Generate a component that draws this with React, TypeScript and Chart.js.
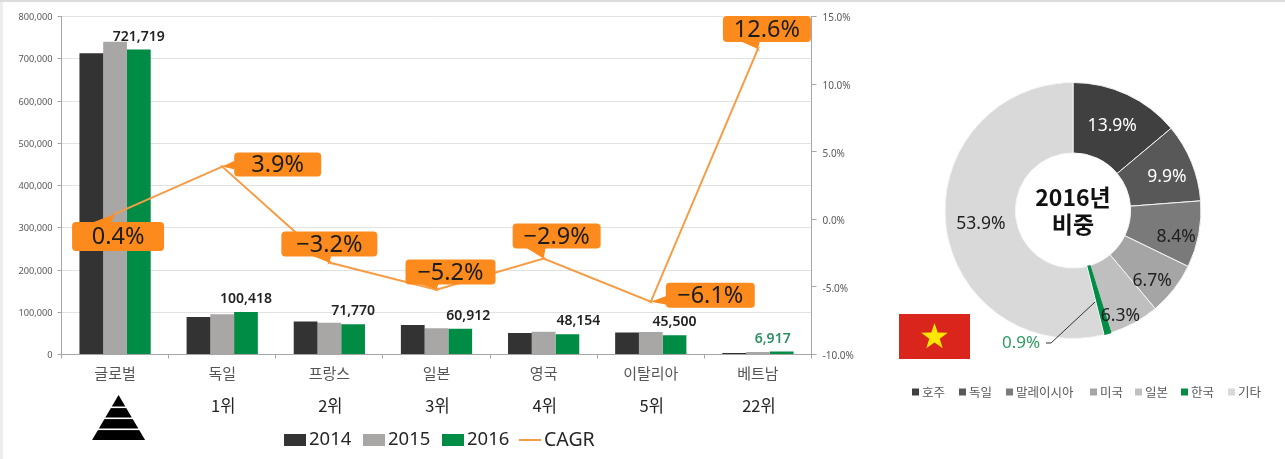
import React, { useEffect, useRef } from "react";
import { Chart, registerables } from "chart.js";

Chart.register(...registerables);

const categories = ["글로벌", "독일", "프랑스", "일본", "영국", "이탈리아", "베트남"];
const ranks = ["", "1위", "2위", "3위", "4위", "5위", "22위"];
const values2014 = [713000, 89000, 78000, 70000, 51000, 52000, 3500];
const values2015 = [740000, 95000, 75000, 62000, 54000, 53000, 6000];
const values2016 = [721719, 100418, 71770, 60912, 48154, 45500, 6917];
const cagr = [0.4, 3.9, -3.2, -5.2, -2.9, -6.1, 12.6];

const shareLabels = ["호주", "독일", "말레이시아", "미국", "일본", "한국", "기타"];
const shareValues = [13.9, 9.9, 8.4, 6.7, 6.3, 0.9, 53.9];
const shareColors = ["#404040", "#585858", "#7a7a7a", "#a5a5a5", "#bfbfbf", "#008c45", "#d9d9d9"];
const shareBorders = ["#f4f4f4", "#f4f4f4", "#f4f4f4", "#f4f4f4", "#f4f4f4", "#008c45", "#f4f4f4"];

const FONT = '"Noto Sans CJK KR", "Noto Sans", sans-serif';
const NUM = '"Noto Sans", sans-serif';
const ORANGE = "#fd8a1c";
const GREEN = "#008c45";
const LEGEND_BOX_WIDTH = 22;

// callout box placement relative to its data point: dx, dy, w, h
const callouts = [
  [-43, 8, 92, 29],
  [12, -14, 87, 24],
  [-48, -31, 96, 25],
  [-31, -30, 90, 25],
  [-31, -35, 88, 25],
  [15, -19, 89, 25],
  [-35, -33, 88, 26],
];
const valueLabelOffsets = [0, 0, 0, 8, 11, 0, -9];
const sliceLabelOffsets = [[0, 0], [8, 1], [12, 9], [6, 13], [3, 24], null, [0, 2]];

function legend(ctx: any, items: any[], y: number, o: any) {
  ctx.save();
  ctx.textBaseline = "middle";
  ctx.textAlign = "left";
  items.forEach((it) => {
    ctx.fillStyle = it.color;
    ctx.strokeStyle = it.color;
    if (it.line) {
      ctx.lineWidth = 2;
      ctx.beginPath();
      ctx.moveTo(it.x, y);
      ctx.lineTo(it.x + o.w, y);
      ctx.stroke();
    } else {
      ctx.fillRect(it.x, y - o.h / 2, o.w, o.h);
    }
    ctx.font = it.font || o.font;
    ctx.fillStyle = o.color;
    ctx.fillText(it.text, it.x + o.w + o.gap, y + (o.dy || 0));
  });
  ctx.restore();
}

const barOverlay = {
  id: "barOverlay",
  afterDatasetsDraw(chart: any) {
    const { ctx, scales } = chart;
    const meta2016 = chart.getDatasetMeta(2);
    ctx.save();
    ctx.textAlign = "center";
    ctx.textBaseline = "middle";

    values2016.forEach((v, i) => {
      const el = meta2016.data[i];
      ctx.font = `600 14px ${NUM}`;
      ctx.fillStyle = i === 6 ? "#2e8f62" : "#222222";
      ctx.fillText(v.toLocaleString("en-US"), el.x + valueLabelOffsets[i], el.y - 13);
    });

    cagr.forEach((v, i) => {
      const px = scales.x.getPixelForValue(i);
      const py = scales.y1.getPixelForValue(v);
      const [dx, dy, w, h] = callouts[i];
      const left = px + dx;
      const top = py + dy;
      ctx.fillStyle = ORANGE;
      ctx.beginPath();
      ctx.roundRect(left, top, w, h, 4);
      ctx.fill();
      ctx.beginPath();
      ctx.moveTo(px, py);
      if (px < left) {
        ctx.lineTo(left + 1, py - 6);
        ctx.lineTo(left + 1, py + 3);
      } else if (py > top + h) {
        ctx.lineTo(px - 18, top + h - 1);
        ctx.lineTo(px + 2, top + h - 1);
      } else {
        ctx.lineTo(px - 24, top + 1);
        ctx.lineTo(px - 4, top + 1);
      }
      ctx.closePath();
      ctx.fill();
      ctx.fillStyle = "#1c1c1c";
      ctx.font = `23.5px ${NUM}`;
      const text = (v < 0 ? "−" : "") + Math.abs(v).toFixed(1) + "%";
      ctx.fillText(text, left + w / 2, top + h / 2 + 1);
    });

    ctx.fillStyle = "#222222";
    ctx.font = `16.5px ${FONT}`;
    ranks.forEach((r, i) => {
      if (r) ctx.fillText(r, scales.x.getPixelForValue(i) + 1, 406);
    });

    // pyramid marker under the global column
    const cx = scales.x.getPixelForValue(0) + 3.5;
    ctx.fillStyle = "#000000";
    ctx.beginPath();
    ctx.moveTo(cx, 395);
    ctx.lineTo(cx + 26.5, 440);
    ctx.lineTo(cx - 26.5, 440);
    ctx.closePath();
    ctx.fill();
    ctx.fillStyle = "#ffffff";
    [406.5, 417.5, 428.5].forEach((y) => ctx.fillRect(cx - 30, y, 60, 1.6));
    ctx.restore();

    const xs = [284, 363, 442, 519];
    const items = chart.data.datasets.map((d: any, i: number) => ({
      x: xs[i],
      text: d.label,
      color: d.type === "line" ? d.borderColor : d.backgroundColor,
      line: d.type === "line",
      font: d.type === "line" ? `19.5px ${NUM}` : undefined,
    }));
    legend(ctx, items, 440, { font: `18.5px ${NUM}`, w: LEGEND_BOX_WIDTH, h: 12, gap: 3, color: "#262626" });
  },
};

const pieOverlay = {
  id: "pieOverlay",
  afterDatasetsDraw(chart: any) {
    const { ctx } = chart;
    const arcs = chart.getDatasetMeta(0).data;
    const ox = -860;
    const cx = arcs[0].x;
    const cy = arcs[0].y;
    ctx.save();
    ctx.textAlign = "center";
    ctx.textBaseline = "middle";

    shareValues.forEach((v, i) => {
      const off = sliceLabelOffsets[i];
      if (!off) return;
      const c = arcs[i].getCenterPoint();
      ctx.fillStyle = i < 2 ? "#ffffff" : "#1f1f1f";
      ctx.font = `17.5px ${NUM}`;
      ctx.fillText(v.toFixed(1) + "%", c.x + off[0], c.y + off[1]);
    });

    ctx.fillStyle = "#2e9c63";
    ctx.font = `17px ${NUM}`;
    ctx.fillText(shareValues[5].toFixed(1) + "%", 1021 + ox, 343);
    ctx.strokeStyle = "#333333";
    ctx.lineWidth = 1;
    ctx.beginPath();
    ctx.moveTo(1046 + ox, 343);
    ctx.lineTo(1051 + ox, 343);
    ctx.lineTo(1095 + ox, 302);
    ctx.stroke();

    ctx.fillStyle = "#111111";
    ctx.font = `bold 23px ${FONT}`;
    ctx.fillText("2016년", cx, cy - 13);
    ctx.fillText("비중", cx, cy + 14);

    // flag
    ctx.fillStyle = "#da251d";
    ctx.fillRect(899 + ox, 314, 71, 45);
    const sx = 934.5 + ox;
    const sy = 337;
    ctx.fillStyle = "#ffe600";
    ctx.beginPath();
    for (let k = 0; k < 10; k++) {
      const r = k % 2 === 0 ? 14 : 5.5;
      const a = -Math.PI / 2 + (k * Math.PI) / 5;
      const X = sx + r * Math.cos(a);
      const Y = sy + r * Math.sin(a);
      if (k === 0) ctx.moveTo(X, Y);
      else ctx.lineTo(X, Y);
    }
    ctx.closePath();
    ctx.fill();
    ctx.restore();

    const xs = [912, 959, 1006, 1090, 1135, 1181, 1228];
    const items = shareLabels.map((t, i) => ({ x: xs[i] + ox, text: t, color: shareColors[i] }));
    legend(ctx, items, 392, { font: `12.5px ${FONT}`, w: 7, h: 7, gap: 3, color: "#595959" });
  },
};

export default function App() {
  const barRef = useRef<HTMLCanvasElement>(null);
  const pieRef = useRef<HTMLCanvasElement>(null);

  useEffect(() => {
    const bar = new Chart(barRef.current as any, {
      type: "bar",
      data: {
        labels: categories,
        datasets: [
          { label: "2014", data: values2014, backgroundColor: "#333333", yAxisID: "y", order: 1 },
          { label: "2015", data: values2015, backgroundColor: "#a9a6a6", yAxisID: "y", order: 1 },
          { label: "2016", data: values2016, backgroundColor: GREEN, yAxisID: "y", order: 1 },
          { type: "line", label: "CAGR", data: cagr, yAxisID: "y1", borderColor: "#f59c45", backgroundColor: "#f59c45", borderWidth: 2, pointRadius: 2.5, pointStyle: "crossRot", pointBorderWidth: 1, tension: 0, order: 0 },
        ] as any,
      },
      options: {
        responsive: false,
        animation: false,
        layout: { padding: { top: 16.5, left: 0, right: 0, bottom: 0 } },
        plugins: { legend: { display: false }, tooltip: { enabled: false } },
        datasets: { bar: { barPercentage: 1, categoryPercentage: 0.665 } },
        scales: {
          x: {
            grid: { drawOnChartArea: false, drawTicks: true, tickLength: 4, color: "#a6a6a6" },
            border: { color: "#a6a6a6" },
            ticks: { font: { family: FONT, size: 15 }, color: "#555555", padding: 6, maxRotation: 0 },
            afterFit: (s: any) => { s.height = 104.5; },
          },
          y: {
            position: "left",
            min: 0,
            max: 800000,
            grid: { color: "#e2e2e2", tickColor: "#a6a6a6", tickLength: 4 },
            border: { color: "#a6a6a6" },
            ticks: { stepSize: 100000, font: { family: NUM, size: 9.2 }, color: "#595959", padding: 5, labelOffset: 1, callback: (v: any) => Number(v).toLocaleString("en-US") },
            afterFit: (s: any) => { s.width = 61.5; },
          },
          y1: {
            position: "right",
            min: -10,
            max: 15,
            grid: { drawOnChartArea: false, color: "#a6a6a6", tickLength: 5 },
            border: { color: "#a6a6a6" },
            ticks: { stepSize: 5, font: { family: NUM, size: 10 }, color: "#595959", padding: 6, labelOffset: 2, callback: (v: any) => Number(v).toFixed(1) + "%" },
            afterFit: (s: any) => { s.width = 48.5; },
          },
        },
      } as any,
      plugins: [barOverlay],
    });

    const pie = new Chart(pieRef.current as any, {
      type: "doughnut",
      data: {
        labels: shareLabels,
        datasets: [{ data: shareValues, backgroundColor: shareColors, borderColor: shareBorders, borderWidth: 1 }],
      },
      options: {
        responsive: false,
        animation: false,
        cutout: "45%",
        layout: { padding: { top: 82, bottom: 120, left: 1, right: 0 } },
        plugins: { legend: { display: false }, tooltip: { enabled: false } },
      } as any,
      plugins: [pieOverlay],
    });

    return () => {
      bar.destroy();
      pie.destroy();
    };
  }, []);

  return (
    <div style={{ position: "fixed", left: 0, top: 0, width: 1285, height: 459, overflow: "hidden", background: "#ffffff" }}>
      <canvas ref={barRef} width={860} height={459} style={{ position: "absolute", left: 0, top: 0, display: "block" }} />
      <canvas ref={pieRef} width={425} height={459} style={{ position: "absolute", left: 860, top: 0, display: "block" }} />
      <div style={{ position: "absolute", left: 0, top: 0, width: 3, height: 459, background: "#ececec" }} />
      <div style={{ position: "absolute", left: 0, top: 0, width: 1285, height: 2, background: "#dcdcdc" }} />
    </div>
  );
}
